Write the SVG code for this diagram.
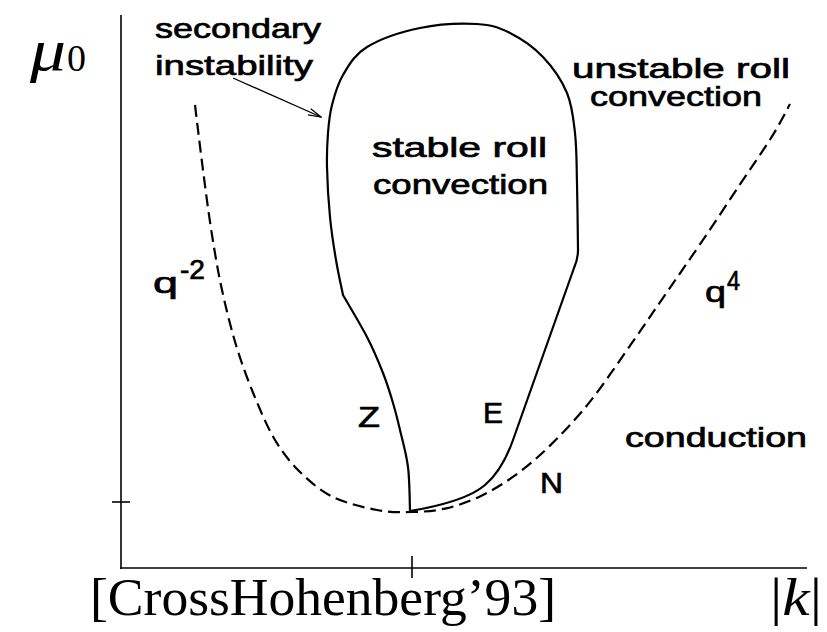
<svg xmlns="http://www.w3.org/2000/svg" width="827" height="632" viewBox="0 0 827 632">
<style>
.lbl{font-family:"Liberation Sans",Arial,sans-serif;font-size:28px;fill:#000;stroke:#000;stroke-width:0.7}
.cap{font-family:"Liberation Sans",Arial,sans-serif;font-size:30px;fill:#000;stroke:#000;stroke-width:0.7}
.math{font-family:"Liberation Serif","Times New Roman",serif;fill:#000}
.axis{stroke:#000;stroke-width:1.6;fill:none}
.curve{stroke:#000;stroke-width:2.2;fill:none;stroke-linejoin:round;stroke-linecap:round}
.dash{stroke:#000;stroke-width:2.2;fill:none;stroke-dasharray:12 6}
</style>
<defs>
<marker id="open" viewBox="0 0 14 8" refX="13" refY="4" markerWidth="14" markerHeight="8" markerUnits="userSpaceOnUse" orient="auto">
<path d="M0,0.5 L13,4 L0,7.5" fill="none" stroke="#000" stroke-width="1.2"/>
</marker>
</defs>
<rect width="827" height="632" fill="#fff"/>
<g id="axes">
<line class="axis" x1="121" y1="15" x2="121" y2="569"/>
<line class="axis" x1="120" y1="568" x2="807" y2="568"/>
<line class="axis" x1="112" y1="502" x2="130" y2="502"/>
<line class="axis" x1="412" y1="556" x2="412" y2="578"/>
</g>
<g id="connectors">
<path id="neutral-curve" class="dash" d="M195,105 C196.3,115.8 200.2,148.3 203,170 C205.8,191.7 208.8,215 212,235 C215.2,255 218,271.7 222,290 C226,308.3 230.7,327.5 236,345 C241.3,362.5 247.5,379.2 254,395 C260.5,410.8 267.3,427.2 275,440 C282.7,452.8 290.3,462.5 300,472 C309.7,481.5 320.2,490.7 333,497 C345.8,503.3 364,507.5 377,510 C390,512.5 399.7,512.2 411,512 C422.3,511.8 433.5,511.2 445,508.6 C456.5,506 468.3,501.9 480,496.4 C491.7,490.9 503.3,483.9 515,475.4 C526.7,466.9 537.5,457.9 550,445.6 C562.5,433.3 576.2,419 590,401.6 C603.8,384.2 620.2,359.7 633,341.4 C645.8,323.1 655.3,309 667,292.1 C678.7,275.2 690.8,257.8 703,239.9 C715.2,221.9 728.5,201.7 740,184.4 C751.5,167.1 763.7,149.8 772,136.4 C780.3,123 787,109.4 790,104"/>
<path id="stability-boundary" class="curve" d="M410,511 C409.7,503.7 409.7,480.5 408,467 C406.3,453.5 402.5,440.7 400,430 C397.5,419.3 395.8,412.5 393,403 C390.2,393.5 387.3,384 383,373 C378.7,362 373.7,350 367,337 C360.3,324 347,302 343,295 C341.8,289.2 338.2,273 336,260 C333.8,247 331.5,232.5 330,217 C328.5,201.5 327.3,181 327,167 C326.7,153 327.2,143.3 328,133 C328.8,122.7 329.5,114.7 332,105 C334.5,95.3 337.2,84.7 343,75 C348.8,65.3 354.2,54.8 367,47 C379.8,39.2 401.7,31.8 420,28 C438.3,24.2 462,23.2 477,24 C492,24.8 499,27.5 510,33 C521,38.5 533.5,47 543,57 C552.5,67 561.7,80.3 567,93 C572.3,105.7 573.3,118 575,133 C576.7,148 576.5,163.5 577,183 C577.5,202.5 577.8,238.8 578,250 Q578,259 574,268 L513,440 C507,457 497,474.6 485,485 C470,498 440,506 410,511"/>
<line id="pointer" x1="233" y1="78" x2="321" y2="117" stroke="#000" stroke-width="1.3" marker-end="url(#open)"/>
</g>
<g id="label-mu0">
<text class="math" x="30" y="70" font-size="60" font-style="italic" textLength="36" lengthAdjust="spacingAndGlyphs">μ</text>
<text class="math" x="67" y="71" font-size="38">0</text>
</g>
<g id="label-secondary">
<text class="lbl" x="155" y="38" textLength="166" lengthAdjust="spacingAndGlyphs">secondary</text>
<text class="lbl" x="155" y="75" textLength="158" lengthAdjust="spacingAndGlyphs">instability</text>
</g>
<g id="label-unstable">
<text class="lbl" x="572" y="78" textLength="218" lengthAdjust="spacingAndGlyphs">unstable  roll</text>
<text class="lbl" x="590" y="106" textLength="172" lengthAdjust="spacingAndGlyphs">convection</text>
</g>
<g id="label-stable">
<text class="lbl" x="372" y="157" textLength="175" lengthAdjust="spacingAndGlyphs">stable  roll</text>
<text class="lbl" x="373" y="194" textLength="175" lengthAdjust="spacingAndGlyphs">convection</text>
</g>
<g id="label-conduction">
<text class="lbl" x="625" y="447" textLength="182" lengthAdjust="spacingAndGlyphs">conduction</text>
</g>
<g id="label-q-2">
<text class="cap" x="153" y="293" textLength="25" lengthAdjust="spacingAndGlyphs">q</text>
<text class="lbl" x="180" y="279" font-size="19" textLength="25" lengthAdjust="spacingAndGlyphs">-2</text>
</g>
<g id="label-q4">
<text class="cap" x="705" y="302" textLength="21" lengthAdjust="spacingAndGlyphs">q</text>
<text class="lbl" x="727" y="290" font-size="18" textLength="13" lengthAdjust="spacingAndGlyphs">4</text>
</g>
<g id="label-Z"><text class="cap" x="358" y="427" textLength="22" lengthAdjust="spacingAndGlyphs">Z</text></g>
<g id="label-E"><text class="cap" x="483" y="423" textLength="20" lengthAdjust="spacingAndGlyphs">E</text></g>
<g id="label-N"><text class="cap" x="540" y="493" textLength="23" lengthAdjust="spacingAndGlyphs">N</text></g>
<g id="label-citation">
<text class="math" x="90" y="615" font-size="52" textLength="466" lengthAdjust="spacingAndGlyphs">[CrossHohenberg’93]</text>
</g>
<g id="label-k">
<text class="math" x="770" y="615" font-size="52" textLength="52" lengthAdjust="spacingAndGlyphs">|<tspan font-style="italic">k</tspan>|</text>
</g>
</svg>
